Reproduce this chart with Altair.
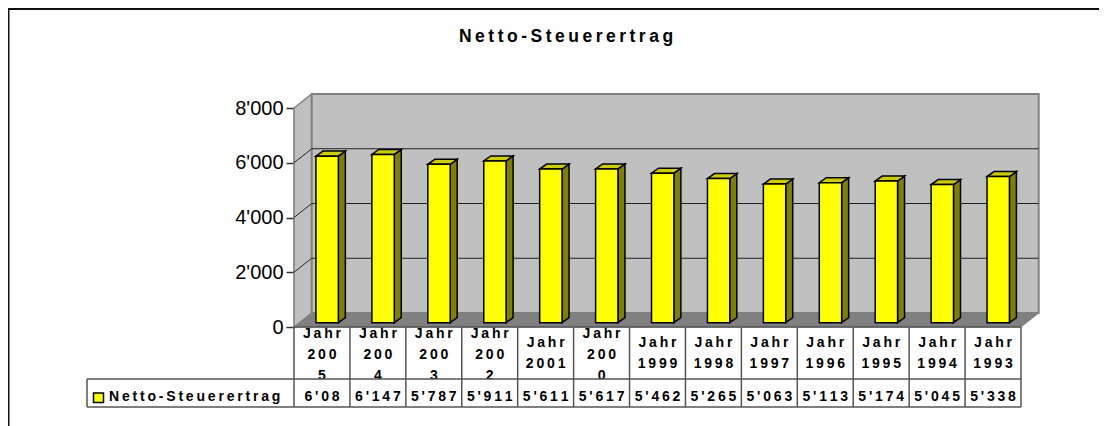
import altair as alt
import pandas as pd

# ---------------- data ----------------
title_text = "Netto-Steuerertrag"
series_name = "Netto-Steuerertrag"
categories = ["Jahr 2005", "Jahr 2004", "Jahr 2003", "Jahr 2002", "Jahr 2001", "Jahr 2000",
              "Jahr 1999", "Jahr 1998", "Jahr 1997", "Jahr 1996", "Jahr 1995", "Jahr 1994", "Jahr 1993"]
category_display = ["Jahr\n200\n5", "Jahr\n200\n4", "Jahr\n200\n3", "Jahr\n200\n2", "Jahr\n2001",
                    "Jahr\n200\n0", "Jahr\n1999", "Jahr\n1998", "Jahr\n1997", "Jahr\n1996",
                    "Jahr\n1995", "Jahr\n1994", "Jahr\n1993"]
values = [6085, 6147, 5787, 5911, 5611, 5617, 5462, 5265, 5063, 5113, 5174, 5045, 5338]
value_display = ["6'08", "6'147", "5'787", "5'911", "5'611", "5'617", "5'462", "5'265",
                 "5'063", "5'113", "5'174", "5'045", "5'338"]
y_ticks = [0, 2000, 4000, 6000, 8000]
y_max = 8000

# ---------------- style / geometry ----------------
N = len(values)
W, H = 727, 219
DX, DY = 0.3165, 511          # wall depth (x units, y units)
BX0, BW = 0.393, 0.40         # bar front face start/width within a category
BDX, BDY = 0.125, 183         # bar depth
BASE = 157                    # bar base (mid-depth)
FONT = "Liberation Sans"
GRAYWALL = "#C0C0C0"
GRAYEDGE = "#808080"
TABLE = "#555555"


def spaced(s):
    return "\n".join("\u2009".join(line) for line in s.split("\n"))


xs = alt.Scale(domain=[0, N], nice=False, zero=False)
ys = alt.Scale(domain=[0, y_max], nice=False, zero=False)
yaxis = alt.Axis(values=y_ticks, title=None, grid=False, tickSize=8, labelFontSize=20,
                 labelFont=FONT, labelColor="black", domainColor="#333333", tickColor="#333333",
                 domainWidth=1.5, tickWidth=1.5, labelPadding=3,
                 labelExpr="replace(format(datum.value, ','), ',', \"'\")")


def X(f):
    return alt.X(f, scale=xs, axis=None)


def Y(f):
    return alt.Y(f, scale=ys, axis=yaxis, stack=None)


def slab(key, x0, x1, y0, dx, dy):
    """Rows for a vertical-orient area drawing a parallelogram whose front edge
    runs from (x0, y0) to (x1, y0) and whose back edge is shifted by (dx, dy)."""
    return [
        {"i": key, "x": x0, "lo": y0, "hi": y0},
        {"i": key, "x": x0 + dx, "lo": y0, "hi": y0 + dy},
        {"i": key, "x": x1, "lo": y0, "hi": y0 + dy},
        {"i": key, "x": x1 + dx, "lo": y0 + dy, "hi": y0 + dy},
    ]


# left side wall (vertical parallelogram)
side_wall = pd.DataFrame({"x": [0, DX], "lo": [0, DY], "hi": [y_max, y_max + DY]})
l_side = alt.Chart(side_wall).mark_area(orient="vertical", fill=GRAYWALL, stroke=GRAYEDGE,
                                        strokeWidth=1.5).encode(
    x=X("x:Q"), y=Y("lo:Q"), y2="hi:Q")

# back wall
back = pd.DataFrame({"x0": [DX], "x1": [N + DX], "y0": [DY], "y1": [y_max + DY]})
l_back = alt.Chart(back).mark_rect(fill=GRAYWALL, stroke=GRAYEDGE, strokeWidth=2).encode(
    x=X("x0:Q"), x2="x1:Q", y=Y("y0:Q"), y2="y1:Q")

# floor
floor = pd.DataFrame(slab(0, 0, N, 0, DX, DY))
l_floor = alt.Chart(floor).mark_area(orient="vertical", fill=GRAYEDGE, stroke=GRAYEDGE,
                                     strokeWidth=1).encode(
    x=X("x:Q"), y=Y("lo:Q"), y2="hi:Q")

# gridlines on back wall and on the side wall
grid_vals = [t for t in y_ticks if 0 < t < y_max]
grid = pd.DataFrame({"v": grid_vals})
grid["vb"] = grid["v"] + DY
grid["x0"] = DX
grid["x1"] = N + DX
grid["xs0"] = 0
l_grid = alt.Chart(grid).mark_rule(color="#222222", strokeWidth=1).encode(
    x=X("x0:Q"), x2="x1:Q", y=Y("vb:Q"), y2="vb:Q")
l_diag = alt.Chart(grid).mark_rule(color="#222222", strokeWidth=1).encode(
    x=X("xs0:Q"), x2="x0:Q", y=Y("v:Q"), y2="vb:Q")

# bars
front_rows, side_rows, top_rows = [], [], []
for i, v in enumerate(values):
    x0 = i + BX0
    x1 = x0 + BW
    front_rows.append({"i": i, "x0": x0, "x1": x1, "y0": BASE, "y1": BASE + v})
    side_rows.append({"i": i, "x": x1, "lo": BASE, "hi": BASE + v})
    side_rows.append({"i": i, "x": x1 + BDX, "lo": BASE + BDY, "hi": BASE + v + BDY})
    top_rows.extend(slab(i, x0, x1, BASE + v, BDX, BDY))

l_bside = alt.Chart(pd.DataFrame(side_rows)).mark_area(
    orient="vertical", fill="#808000", stroke="black", strokeWidth=1.5, strokeJoin="miter").encode(
    x=X("x:Q"), y=Y("lo:Q"), y2="hi:Q", detail="i:N")
l_btop = alt.Chart(pd.DataFrame(top_rows)).mark_area(
    orient="vertical", fill="#CCCC00", stroke="black", strokeWidth=1.5, strokeJoin="miter").encode(
    x=X("x:Q"), y=Y("lo:Q"), y2="hi:Q", detail="i:N")
l_bfront = alt.Chart(pd.DataFrame(front_rows)).mark_rect(
    fill="#FFFF00", stroke="black", strokeWidth=1.5).encode(
    x=X("x0:Q"), x2="x1:Q", y=Y("y0:Q"), y2="y1:Q")

# data table
table_df = pd.DataFrame({
    "cx": [i + 0.5 for i in range(N)],
    "cat": [spaced(c) for c in category_display],
    "nl": [c.count("\n") + 1 for c in category_display],
    "val": [spaced(v) for v in value_display],
})
cat_base = alt.Chart(table_df).mark_text(
    font=FONT, fontWeight="bold", fontSize=14, lineBreak="\n", lineHeight=21,
    baseline="alphabetic", align="center", color="black")
l_cat2 = cat_base.transform_filter("datum.nl == 2").encode(
    x=X("cx:Q"), y=alt.value(238.7), text="cat:N")
l_cat3 = cat_base.transform_filter("datum.nl == 3").encode(
    x=X("cx:Q"), y=alt.value(229.5), text="cat:N")
l_val = alt.Chart(table_df).mark_text(
    font=FONT, fontWeight="bold", fontSize=14, baseline="alphabetic", align="center",
    color="black").encode(
    x=X("cx:Q"), y=alt.value(293), text="val:N")

# white mask below the category row so the wrapped labels are clipped like in the cells
mask = pd.DataFrame({"a": [0]})
l_mask_bot = alt.Chart(mask).mark_rect(fill="white").encode(
    x=alt.value(1), x2=alt.value(W), y=alt.value(271), y2=alt.value(278))

vlines = pd.DataFrame({"k": list(range(N + 1))})
l_vlines = alt.Chart(vlines).mark_rule(color=TABLE, strokeWidth=1.5).encode(
    x=X("k:Q"), y=alt.value(H), y2=alt.value(299))
l_h0 = alt.Chart(mask).mark_rule(color=TABLE, strokeWidth=1.5).encode(
    x=alt.value(0), x2=alt.value(W), y=alt.value(H))
l_h1 = alt.Chart(mask).mark_rule(color=TABLE, strokeWidth=1.5).encode(
    x=alt.value(-207), x2=alt.value(W), y=alt.value(271))
l_h2 = alt.Chart(mask).mark_rule(color=TABLE, strokeWidth=1.5).encode(
    x=alt.value(-207), x2=alt.value(W), y=alt.value(299))
l_vleft = alt.Chart(mask).mark_rule(color=TABLE, strokeWidth=1.5).encode(
    x=alt.value(-207), y=alt.value(271), y2=alt.value(299))

leg = pd.DataFrame({"name": [spaced(series_name)]})
l_legsq = alt.Chart(leg).mark_rect(fill="#FFFF00", stroke="black", strokeWidth=1.5).encode(
    x=alt.value(-200.5), x2=alt.value(-190.5), y=alt.value(285), y2=alt.value(294.5))
l_legtxt = alt.Chart(leg).mark_text(
    font=FONT, fontWeight="bold", fontSize=14, align="left", baseline="alphabetic",
    color="black").encode(x=alt.value(-185), y=alt.value(293), text="name:N")

# title
tdf = pd.DataFrame({"t": [spaced(title_text)]})
l_title = alt.Chart(tdf).mark_text(
    font=FONT, fontWeight="bold", fontSize=17.5, align="center", baseline="alphabetic",
    color="black").encode(x=alt.value(272), y=alt.value(-66), text="t:N")

# outer frame (top and left edges)
l_ftop = alt.Chart(tdf).mark_rule(color="#111111", strokeWidth=2).encode(
    x=alt.value(-286), x2=alt.value(W + 78), y=alt.value(-99))
l_fleft = alt.Chart(tdf).mark_rule(color="#111111", strokeWidth=2).encode(
    x=alt.value(-285.5), y=alt.value(-100), y2=alt.value(H + 99))

chart = alt.layer(
    l_cat2, l_cat3, l_mask_bot,
    l_side, l_back, l_floor, l_grid, l_diag,
    l_bside, l_btop, l_bfront,
    l_vlines, l_h0, l_h1, l_h2, l_vleft,
    l_val, l_legsq, l_legtxt,
    l_title, l_ftop, l_fleft,
).properties(
    width=W, height=H,
    autosize=alt.AutoSizeParams(type="none"),
    padding={"left": 286, "top": 100, "right": 78, "bottom": 99},
    background="white",
).configure_view(stroke=None)

chart.save("out.html", embed_options={"renderer": "svg", "actions": False})
